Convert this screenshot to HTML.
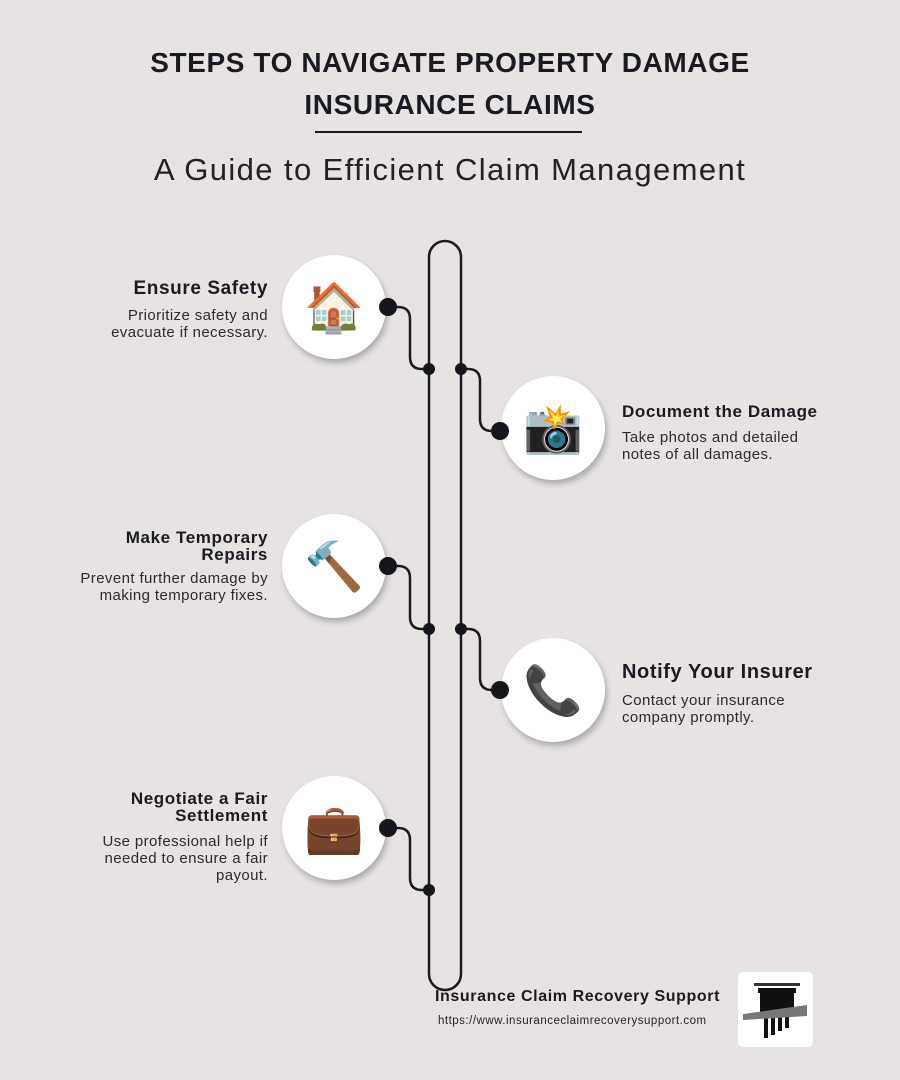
<!DOCTYPE html>
<html><head><meta charset="utf-8"><style>
body{margin:0;width:900px;height:1080px;background:#e6e3e2;font-family:"Liberation Sans","Noto Sans CJK JP",sans-serif;position:relative;overflow:hidden;color:#1a1a22}
.t{position:absolute;left:0;width:900px;text-align:center;font-weight:900;font-size:28px;letter-spacing:0.6px;line-height:42px}
.c{position:absolute;width:104px;height:104px;border-radius:50%;background:#fff;box-shadow:2px 4px 6px rgba(0,0,0,.25);display:flex;align-items:center;justify-content:center;font-size:48px;font-family:"Noto Color Emoji","DejaVu Sans",sans-serif}
.h{position:absolute;font-weight:bold;font-size:18px;line-height:18px;letter-spacing:0.6px}
.p{position:absolute;font-size:15px;line-height:17px;color:#2a2a30;letter-spacing:0.4px}
.r{text-align:right}
</style></head><body>
<div class="t" style="top:42px">STEPS TO NAVIGATE PROPERTY DAMAGE</div>
<div class="t" style="top:84px">INSURANCE CLAIMS</div>
<div style="position:absolute;left:315px;top:131px;width:267px;height:2px;background:#1a1a22"></div>
<div style="position:absolute;left:0;width:900px;top:152px;text-align:center;font-size:31px;letter-spacing:1.4px;color:#222">A Guide to Efficient Claim Management</div>
<div class="c" style="left:282px;top:255px">🏠</div>
<div class="c" style="left:501px;top:376px">📸</div>
<div class="c" style="left:282px;top:514px">🔨</div>
<div class="c" style="left:501px;top:638px">📞</div>
<div class="c" style="left:282px;top:776px">💼</div>
<svg style="position:absolute;left:0;top:0" width="900" height="1080">
<g fill="none" stroke="#1a1a22" stroke-width="2.5">
<path d="M429 974 V257 A16 16 0 0 1 461 257 V974 A16 16 0 0 1 429 974 Z"/>
<path d="M388 307 H398 Q410 307 410 319 V357 Q410 369 422 369 H429"/>
<path d="M461 369 H468 Q480 369 480 381 V419 Q480 431 492 431 H500"/>
<path d="M388 566 H398 Q410 566 410 578 V617 Q410 629 422 629 H429"/>
<path d="M461 629 H468 Q480 629 480 641 V678 Q480 690 492 690 H500"/>
<path d="M388 828 H398 Q410 828 410 840 V878 Q410 890 422 890 H429"/>
</g>
<g fill="#15151c">
<circle cx="388" cy="307" r="9"/><circle cx="429" cy="369" r="6"/><circle cx="461" cy="369" r="6"/><circle cx="500" cy="431" r="9"/>
<circle cx="388" cy="566" r="9"/><circle cx="429" cy="629" r="6"/><circle cx="461" cy="629" r="6"/><circle cx="500" cy="690" r="9"/>
<circle cx="388" cy="828" r="9"/><circle cx="429" cy="890" r="6"/>
</g>
</svg>
<div class="h r" style="right:632px;top:280px;font-size:19px">Ensure Safety</div>
<div class="p r" style="right:632px;top:307px">Prioritize safety and<br>evacuate if necessary.</div>
<div class="h" style="left:622px;top:403px;font-size:17px">Document the Damage</div>
<div class="p" style="left:622px;top:429px">Take photos and detailed<br>notes of all damages.</div>
<div class="h r" style="right:632px;top:529px;font-size:17px;line-height:17px">Make Temporary<br>Repairs</div>
<div class="p r" style="right:632px;top:570px">Prevent further damage by<br>making temporary fixes.</div>
<div class="h" style="left:622px;top:663px;font-size:20px">Notify Your Insurer</div>
<div class="p" style="left:622px;top:692px">Contact your insurance<br>company promptly.</div>
<div class="h r" style="right:632px;top:790px;font-size:17px;line-height:17px">Negotiate a Fair<br>Settlement</div>
<div class="p r" style="right:632px;top:833px">Use professional help if<br>needed to ensure a fair<br>payout.</div>
<div class="h" style="left:435px;top:988px;font-size:16px;letter-spacing:0.6px">Insurance Claim Recovery Support</div>
<div style="position:absolute;left:438px;top:1015px;font-size:11.5px;letter-spacing:0.5px;color:#222">https://www.insuranceclaimrecoverysupport.com</div>
<div style="position:absolute;left:738px;top:972px;width:75px;height:75px;background:#fff;border-radius:5px">
<svg width="75" height="75"><rect x="16" y="11" width="46" height="3" fill="#333"/><rect x="20" y="16" width="38" height="5" fill="#111"/>
<rect x="22" y="21" width="34" height="20" fill="#111"/>
<rect x="26" y="41" width="4" height="25" fill="#111"/><rect x="33" y="41" width="4" height="22" fill="#111"/><rect x="40" y="41" width="4" height="18" fill="#111"/><rect x="47" y="41" width="4" height="15" fill="#111"/>
<polygon points="5,42 69,33 69,44 5,48" fill="#777"/></svg></div>
</body></html>
